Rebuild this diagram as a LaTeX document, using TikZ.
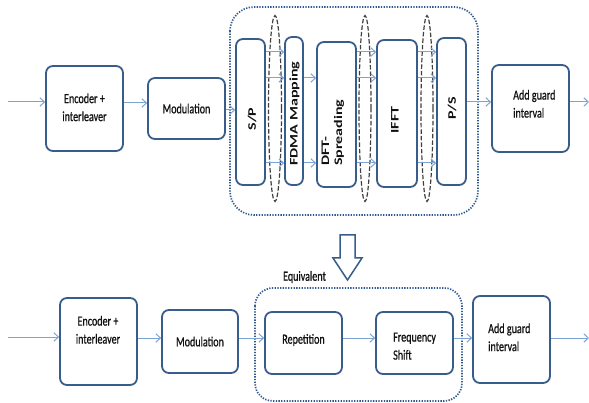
\documentclass[tikz,border=0pt]{standalone}
\usepackage{fontspec}
\setmainfont{Carlito}
\newfontfamily\hfont[FakeBold=0.9]{Carlito}
\usepackage{graphicx}
\usetikzlibrary{arrows.meta}
\definecolor{boxblue}{HTML}{385D8A}
\definecolor{dotblue}{HTML}{2F5A8F}
\definecolor{arrblue}{HTML}{7BA3D4}
\definecolor{txt}{HTML}{111111}
\newcommand{\sq}[1]{\scalebox{0.72}[1]{#1}}
\newcommand{\sqr}[1]{\scalebox{0.72}[1]{\rotatebox{90}{#1}}}
\newcommand{\two}[2]{\begin{tabular}{@{}l@{}}#1\\#2\end{tabular}}
\tikzset{
  box/.style={draw=boxblue, line width=1.8pt, rounded corners=7pt, fill=white, inner sep=0pt,
    text=txt, font=\hfont\fontsize{14}{18}\selectfont},
  rtext/.style={inner sep=0pt, text=txt, font=\fontsize{16}{18}\selectfont\bfseries},
  htext/.style={inner sep=0pt, text=txt, font=\hfont\fontsize{14}{18}\selectfont},
  conn/.style={draw=arrblue, line width=1pt, -{Straight Barb[length=4.5pt,width=8.5pt]}},
  dotbox/.style={draw=dotblue, line width=1.7pt, dash pattern=on 1.3pt off 1.4pt},
  ell/.style={draw=black!75, line width=1.2pt, dash pattern=on 4.5pt off 2pt},
}
\begin{document}
\begin{tikzpicture}[x=1pt,y=-1pt]
\useasboundingbox[fill=white] (0,0) rectangle (589,403);

% ---------- top row ----------
\draw[dotbox, rounded corners=24pt] (230,7) rectangle (478,215);

\node[box, minimum width=77pt, minimum height=85pt] (enc) at (84.5,108.5) {\sq{\begin{tabular}{@{}c@{}}Encoder +\\interleaver\end{tabular}}};
\node[box, minimum width=77pt, minimum height=61pt] (mod) at (186.5,108.5) {\sq{Modulation}};
\node[box, minimum width=29pt, minimum height=146pt] (sp) at (250.5,112) {};
\node[box, minimum width=18pt, minimum height=148pt] (fdma) at (294,111) {};
\node[box, minimum width=39pt, minimum height=145pt] (dft) at (336.5,114.5) {};
\node[box, minimum width=40pt, minimum height=147pt] (ifft) at (397,113.5) {};
\node[box, minimum width=29pt, minimum height=147pt] (ps) at (451.5,111.5) {};
\node[box, minimum width=77pt, minimum height=87pt] (agi) at (530.5,108.5) {};
\node[htext, anchor=west] (agit) at (513,105) {\sq{\two{Add guard}{interval}}};

\node[rtext] (spt) at (252,119) {\sqr{S/P}};
\node[rtext] (fdmat) at (294.5,113.5) {\sqr{FDMA Mapping}};
\node[rtext, anchor=south] (dftt) at (333,166) {\sqr{\two{DFT-}{Spreading}}};
\node[rtext] (ifftt) at (395,120) {\sqr{IFFT}};
\node[rtext] (pst) at (452,108.5) {\sqr{P/S}};

\draw[ell] (275,108.5) ellipse (6.5pt and 93pt);
\draw[ell] (365,108.5) ellipse (6pt and 93pt);
\draw[ell] (427,108.5) ellipse (6pt and 93pt);

\coordinate (a52) at (0,52);
\coordinate (a78) at (0,78);
\coordinate (a163) at (0,163);
\foreach \y in {a52,a78,a163}{
  \draw[conn] (sp.east |- \y) -- (fdma.west |- \y);
  \draw[conn] (dft.east |- \y) -- (ifft.west |- \y);
  \draw[conn] (ifft.east |- \y) -- (ps.west |- \y);
}
\foreach \y in {a78,a163}{
  \draw[conn] (fdma.east |- \y) -- (dft.west |- \y);
}

\coordinate (in1) at (8,102);
\coordinate (out1) at (589,102);
\coordinate (r103) at (0,103);
\coordinate (r110) at (0,110);
\draw[conn] (in1) -- (in1 -| enc.west);
\draw[conn] (enc.east |- r103) -- (mod.west |- r103);
\draw[conn] (mod.east |- r110) -- (sp.west |- r110);
\draw[conn] (ps.east |- in1) -- (agi.west |- in1);
\draw[conn] (agi.east |- out1) -- (out1);

% ---------- hollow arrow ----------
\draw[draw=boxblue, line width=1.5pt, fill=white, line join=miter]
  (340,235) -- (355,235) -- (355,258) -- (362,258) -- (347.5,280) -- (333,258) -- (340,258) -- cycle;

% ---------- bottom row ----------
\draw[dotbox, rounded corners=18pt] (255,288) rectangle (462,401);
\node[htext] (eq) at (304.5,277) {\sq{Equivalent}};

\node[box, minimum width=77pt, minimum height=87pt] (enc2) at (98.5,341.5) {};
\node[htext] (enc2t) at (98,331) {\sq{\begin{tabular}{@{}c@{}}Encoder +\\interleaver\end{tabular}}};
\node[box, minimum width=76pt, minimum height=63pt] (mod2) at (200,341.5) {\sq{Modulation}};
\node[box, minimum width=77pt, minimum height=62pt] (rep) at (303.5,343) {};
\node[htext] (rept) at (303.5,340) {\sq{Repetition}};
\node[box, minimum width=77pt, minimum height=62pt] (fs) at (414.5,343) {};
\node[htext, anchor=west] (fst) at (393,347) {\sq{\two{Frequency}{Shift}}};
\node[box, minimum width=77pt, minimum height=87pt] (agi2) at (511.5,339.5) {};
\node[htext, anchor=west] (agi2t) at (488,338.5) {\sq{\two{Add guard}{interval}}};

\coordinate (in2) at (8,337);
\coordinate (out2) at (589,338);
\coordinate (r338) at (0,338);
\draw[conn] (in2) -- (in2 -| enc2.west);
\draw[conn] (enc2.east |- r338) -- (mod2.west |- r338);
\draw[conn] (mod2.east |- r338) -- (rep.west |- r338);
\draw[conn] (rep.east |- r338) -- (fs.west |- r338);
\draw[conn] (fs.east |- r338) -- (agi2.west |- r338);
\draw[conn] (agi2.east |- out2) -- (out2);
\end{tikzpicture}
\end{document}
